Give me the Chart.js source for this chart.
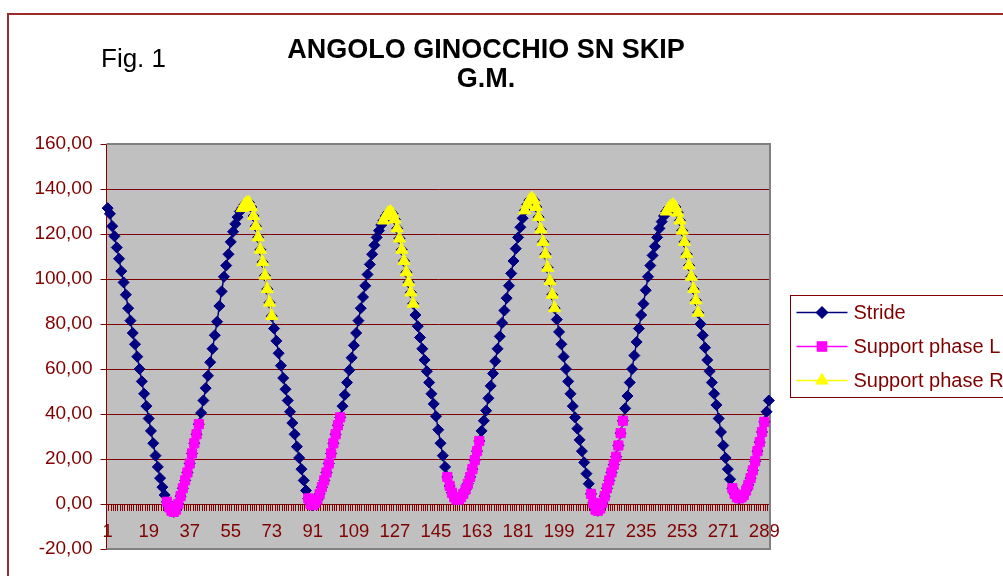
<!DOCTYPE html>
<html>
<head>
<meta charset="utf-8">
<title>ANGOLO GINOCCHIO SN SKIP</title>
<script src="https://cdn.jsdelivr.net/npm/chart.js@4.4.1/dist/chart.umd.min.js"></script>
<style>
  html, body { margin: 0; padding: 0; background: #fff; overflow: hidden; }
  #wrap { position: relative; width: 1003px; height: 576px; }
</style>
</head>
<body>
<div id="wrap"><canvas id="kneeChart" width="1003" height="576"></canvas></div>
<script>
// knee angle, one value per sample
const strideValues = [
  131.5, 129, 123.5, 119, 114, 109, 103.5, 98.5, 93, 87,
  81.5, 76, 71, 65.5, 60, 54.5, 49, 43.5, 38, 32.5,
  27, 21.5, 16.5, 11.5, 7.5, 4, 1, -1.5, -3, -3.5,
  -2.5, 0, 3.5, 7, 10.5, 14, 18, 22.5, 27, 31,
  35.5, 40.5, 46, 51.5, 57, 63, 69, 75, 81, 88,
  94.5, 101, 106, 111, 116.5, 121, 124.5, 127.5, 130, 131.5,
  133, 134, 134, 132, 128, 123.5, 118.5, 113, 107.5, 101.5,
  95.5, 89.5, 83.5, 78, 72.5, 67, 61.5, 56, 51, 46,
  41, 36, 31, 25.5, 20.5, 15.5, 10.5, 6, 2.5, 0,
  -0.5, 0.5, 2, 4.5, 7.5, 10.5, 14, 18, 22.5, 27,
  31, 35, 38.5, 43.5, 48.5, 54, 59.5, 65, 70.5, 76,
  81.5, 87, 92, 97, 102, 106.5, 111, 115, 118.5, 121.5,
  124, 126, 128, 129.5, 130, 129, 126.5, 122.5, 118, 113,
  108, 103, 98.5, 94, 89, 84, 79, 74, 69, 64,
  59, 54, 49, 44.5, 39, 33, 27, 21.5, 16.5, 12,
  8, 5, 3, 2, 2, 3, 4.5, 6.5, 9, 12,
  15.5, 19.5, 23.5, 28, 32.5, 37, 41.5, 47, 52.5, 58,
  63.5, 69, 74.5, 80.5, 86, 91.5, 97, 102.5, 108, 113.5,
  118.5, 123, 127, 130.5, 133, 135, 136, 135, 132, 127.5,
  122, 116.5, 111, 105, 99, 93, 87, 82, 76.5, 71,
  65.5, 60, 54.5, 49, 43.5, 38.5, 33.5, 28.5, 23.5, 18.5,
  13.5, 9, 4.5, 0.5, -2.5, -3, -2, 0.5, 3.5, 7,
  10.5, 14, 17.5, 21, 26, 31.5, 37, 42.5, 48, 54,
  60, 66, 72, 78, 84, 89, 95, 101, 106, 110.5,
  114.5, 118.5, 122.5, 125.5, 128, 130, 131.5, 132.5, 133, 132,
  129.5, 126, 121.5, 116.5, 111, 106, 101, 95.5, 90.5, 85,
  80, 75, 69.5, 64, 59, 54, 49, 44, 38, 32,
  26, 20.5, 15.5, 11, 7, 4.5, 3, 2.5, 3, 4,
  6, 8.5, 11.5, 15, 19, 23.5, 27.5, 32, 36.5, 41,
  46
];

// support phases: first sample number of each stretch, then its values
const supportLStarts = [27, 89, 150, 213, 275];
const supportLValues = [
  [1, -1.5, -3, -3.5, -2.5, 0, 3.5, 7, 10.5, 14, 18, 22.5, 27, 31, 35.5],
  [2.5, 0, -0.5, 0.5, 2, 4.5, 7.5, 10.5, 14, 18, 22.5, 27, 31, 35, 38.5],
  [12, 8, 5, 3, 2, 2, 3, 4.5, 6.5, 9, 12, 15.5, 19.5, 23.5, 28],
  [4.5, 0.5, -2.5, -3, -2, 0.5, 3.5, 7, 10.5, 14, 17.5, 21, 26, 31.5, 37],
  [7, 4.5, 3, 2.5, 3, 4, 6, 8.5, 11.5, 15, 19, 23.5, 27.5, 32, 36.5]
];
const supportRStarts = [60, 122, 184, 246];
const supportRValues = [
  [131.5, 133, 134, 134, 132, 128, 123.5, 118.5, 113, 107.5, 101.5, 95.5, 89.5, 83.5],
  [126, 128, 129.5, 130, 129, 126.5, 122.5, 118, 113, 108, 103, 98.5, 94, 89],
  [130.5, 133, 135, 136, 135, 132, 127.5, 122, 116.5, 111, 105, 99, 93, 87],
  [130, 131.5, 132.5, 133, 132, 129.5, 126, 121.5, 116.5, 111, 106, 101, 95.5, 90.5, 85]
];

const xTickLabels = ['1', '19', '37', '55', '73', '91', '109', '127', '145', '163',
  '181', '199', '217', '235', '253', '271', '289'];
const yTicks = [-20, 0, 20, 40, 60, 80, 100, 120, 140, 160];

const categories = strideValues.map((v, i) => String(i + 1));

function buildPhase(starts, values) {
  const out = strideValues.map(() => null);
  starts.forEach((s, k) => {
    values[k].forEach((v, j) => { out[s - 1 + j] = v; });
  });
  return out;
}

const darkRed = '#800000';
const fontFam = '"Liberation Sans", Arial, sans-serif';
Chart.defaults.font.family = fontFam;

function drawMarker(ctx, style, x, y, r) {
  ctx.beginPath();
  if (style === 'rectRot') {
    ctx.moveTo(x, y - r); ctx.lineTo(x + r, y); ctx.lineTo(x, y + r); ctx.lineTo(x - r, y);
  } else if (style === 'rect') {
    const h = r * Math.SQRT1_2;
    ctx.rect(x - h, y - h, 2 * h, 2 * h);
  } else {
    const s = Math.sin(2 * Math.PI / 3) * r, c = Math.cos(2 * Math.PI / 3) * r;
    ctx.moveTo(x, y - r); ctx.lineTo(x + s, y - c); ctx.lineTo(x - s, y - c);
  }
  ctx.closePath();
  ctx.fill();
}

const excelLook = {
  id: 'excelLook',
  beforeDraw(chart) {
    const {ctx, chartArea: a, width, height} = chart;
    ctx.save();
    ctx.fillStyle = '#fff';
    ctx.fillRect(0, 0, width, height);
    // chart frame (runs off the right and bottom)
    ctx.strokeStyle = '#9B2C2C';
    ctx.lineWidth = 2;
    ctx.strokeRect(8, 14, width + 50, height + 50);
    // plot area
    ctx.fillStyle = '#C0C0C0';
    ctx.fillRect(a.left, a.top, a.right - a.left, a.bottom - a.top);
    // titles
    ctx.fillStyle = '#000';
    ctx.textBaseline = 'alphabetic';
    ctx.textAlign = 'center';
    ctx.font = 'bold 27px ' + fontFam;
    ctx.fillText('ANGOLO GINOCCHIO SN SKIP', 486, 58);
    ctx.fillText('G.M.', 486, 87);
    ctx.textAlign = 'left';
    ctx.font = '26px ' + fontFam;
    ctx.fillText('Fig. 1', 101, 67);
    ctx.restore();
  },
  beforeDatasetsDraw(chart) {
    const {ctx, chartArea: a} = chart;
    ctx.save();
    ctx.strokeStyle = '#808080';
    ctx.lineWidth = 2;
    ctx.beginPath();
    ctx.moveTo(a.left, a.top);
    ctx.lineTo(a.right, a.top);
    ctx.lineTo(a.right, a.bottom);
    ctx.lineTo(a.left, a.bottom);
    ctx.stroke();
    ctx.restore();
  },
  afterDraw(chart) {
    const {ctx, chartArea: a} = chart;
    const left = a.right + 20.5, top = 295.5;
    ctx.save();
    ctx.fillStyle = '#fff';
    ctx.fillRect(left, top, 400, 102);
    ctx.strokeStyle = darkRed;
    ctx.lineWidth = 1;
    ctx.strokeRect(left, top, 400, 102);
    ctx.font = '20px ' + fontFam;
    ctx.textBaseline = 'middle';
    ctx.textAlign = 'left';
    chart.data.datasets.forEach((ds, k) => {
      const y = top + 17 + 34 * k;
      ctx.strokeStyle = ds.borderColor;
      ctx.lineWidth = 1.5;
      ctx.beginPath();
      ctx.moveTo(left + 6, y);
      ctx.lineTo(left + 57, y);
      ctx.stroke();
      ctx.fillStyle = ds.pointBackgroundColor;
      drawMarker(ctx, ds.pointStyle, left + 31.5, y, ds.pointRadius + 1);
      ctx.fillStyle = darkRed;
      ctx.fillText(ds.label, left + 63, y + 1);
    });
    ctx.restore();
  }
};

const ctx = document.getElementById('kneeChart').getContext('2d');
const kneeChart = new Chart(ctx, {
  type: 'line',
  data: {
    labels: categories,
    datasets: [
      {
        label: 'Stride',
        data: strideValues,
        borderColor: '#000080',
        borderWidth: 1.5,
        pointStyle: 'rectRot',
        pointRadius: 5.5,
        pointBackgroundColor: '#000080',
        pointBorderColor: '#000080',
        pointBorderWidth: 1,
        tension: 0,
        order: 2
      },
      {
        label: 'Support phase L',
        data: buildPhase(supportLStarts, supportLValues),
        borderColor: '#FF00FF',
        borderWidth: 1.5,
        pointStyle: 'rect',
        pointRadius: 6.5,
        pointBackgroundColor: '#FF00FF',
        pointBorderColor: '#FF00FF',
        pointBorderWidth: 1,
        tension: 0,
        order: 1
      },
      {
        label: 'Support phase R',
        data: buildPhase(supportRStarts, supportRValues),
        borderColor: '#FFFF00',
        borderWidth: 1.5,
        pointStyle: 'triangle',
        pointRadius: 7,
        pointBackgroundColor: '#FFFF00',
        pointBorderColor: '#FFFF00',
        pointBorderWidth: 1,
        tension: 0,
        order: 1
      }
    ]
  },
  options: {
    responsive: false,
    devicePixelRatio: 1,
    animation: false,
    events: [],
    layout: { padding: { left: 0, right: 233, top: 144, bottom: 27 } },
    plugins: {
      legend: { display: false },
      title: { display: false },
      tooltip: { enabled: false }
    },
    scales: {
      x: {
        type: 'category',
        position: { y: 0 },
        offset: true,
        grid: {
          drawOnChartArea: false,
          drawTicks: true,
          tickLength: 6,
          color: darkRed,
          offset: true
        },
        border: { display: true, color: darkRed, width: 1 },
        ticks: {
          autoSkip: false,
          maxRotation: 0,
          minRotation: 0,
          padding: 11,
          color: darkRed,
          font: { size: 18.5 },
          callback: function (value) {
            const lab = this.getLabelForValue(value);
            return xTickLabels.includes(lab) ? lab : '';
          }
        }
      },
      y: {
        min: yTicks[0],
        max: yTicks[yTicks.length - 1],
        afterFit: (scale) => { scale.width = 106.5; },
        afterBuildTicks: (scale) => { scale.ticks = yTicks.map(v => ({ value: v })); },
        grid: {
          color: (c) => (c.tick && (c.tick.value === 160 || c.tick.value === -20)) ? 'rgba(0,0,0,0)' : darkRed,
          tickColor: darkRed,
          tickLength: 6,
          lineWidth: 1
        },
        border: { display: true, color: darkRed, width: 1 },
        ticks: {
          padding: 8,
          color: darkRed,
          font: { size: 19 },
          callback: (v) => v.toFixed(2).replace('.', ',')
        }
      }
    }
  },
  plugins: [excelLook]
});
</script>
</body>
</html>
